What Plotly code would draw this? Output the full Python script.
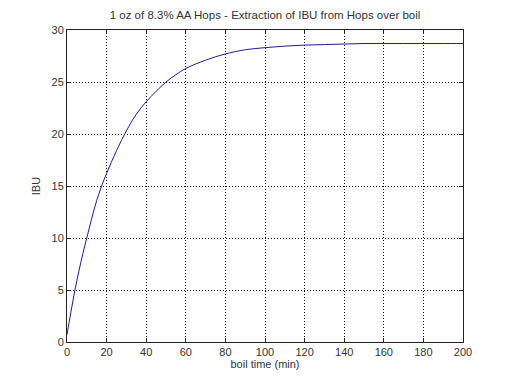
import plotly.graph_objects as go

# Boil time (min) and IBU
boil_time = [0, 2, 4, 6, 8, 10, 12.5, 15, 17.5, 20, 25, 30, 35, 40, 45, 50, 55, 60,
             70, 80, 90, 100, 110, 120, 130, 140, 150, 160, 170, 180, 190, 200]
ibu = [0.7, 2.9, 5.0, 6.8, 8.5, 10.0, 11.9, 13.6, 15.0, 16.2, 18.4, 20.3, 21.9, 23.1,
       24.1, 25.0, 25.7, 26.3, 27.1, 27.7, 28.1, 28.3, 28.45, 28.55, 28.6, 28.65,
       28.7, 28.7, 28.7, 28.7, 28.7, 28.7]

x_ticks = [0, 20, 40, 60, 80, 100, 120, 140, 160, 180, 200]
y_ticks = [0, 5, 10, 15, 20, 25, 30]

title_text = "1 oz of 8.3% AA Hops - Extraction of IBU from Hops over boil"

fig = go.Figure()
fig.add_trace(go.Scatter(x=boil_time, y=ibu, mode="lines", line_shape="spline",
                         line=dict(color="#1c1c96", width=1), showlegend=False))

font = dict(family="Liberation Sans, Arial, sans-serif", size=11, color="#333333")

axis_common = dict(showline=True, linecolor="#222222", linewidth=1, mirror="ticks",
                   ticks="inside", ticklen=4, tickcolor="#222222",
                   showgrid=True, gridcolor="#000000", gridwidth=1, griddash="1px,2px",
                   zeroline=False, tickfont=font)

fig.update_layout(
    width=504, height=376,
    paper_bgcolor="white", plot_bgcolor="white",
    margin=dict(l=59, r=49, t=22, b=42),
    title=dict(text=title_text, x=0.5, xanchor="center", y=0.982, yanchor="middle",
               xref="paper", font=dict(family=font["family"], size=11.5, color="#333333")),
    xaxis=dict(range=[0, 200], tickvals=x_ticks, title=dict(text="boil time (min)", font=font, standoff=2),
               **axis_common),
    yaxis=dict(range=[0, 30], tickvals=y_ticks, title=dict(text="IBU", font=font, standoff=8),
               **axis_common),
)

fig.write_html("out.html")
